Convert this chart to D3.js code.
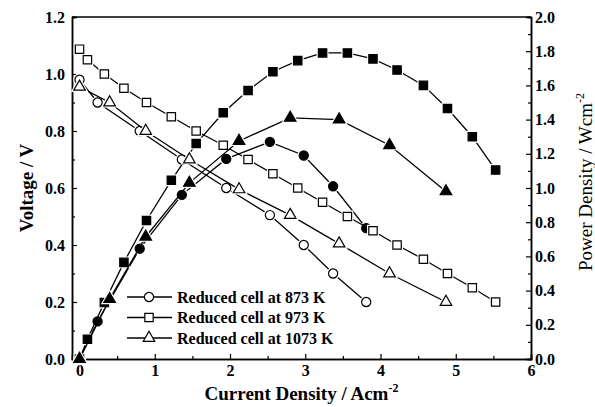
<!DOCTYPE html>
<html>
<head>
<meta charset="utf-8">
<script src="https://cdn.jsdelivr.net/npm/d3@7"></script>
<style>
  body { margin: 0; background: #fff; }
  svg { display: block; }
  svg text { font-family: "Liberation Serif", "Tinos", "Nimbus Roman", "Nimbus Roman No9 L", "FreeSerif", "DejaVu Serif", "Noto Serif", "Times New Roman", Times, serif; }
</style>
</head>
<body>
<div id="chart"></div>
<script>
// Reduced cell at 873 K
const current873 = [0, 0.24, 0.80, 1.36, 1.95, 2.53, 2.98, 3.37, 3.81]
const voltage873 = [0.98, 0.90, 0.80, 0.70, 0.60, 0.505, 0.40, 0.30, 0.20]
const power873 = [0, 0.22, 0.645, 0.96, 1.17, 1.27, 1.19, 1.01, 0.765]

// Reduced cell at 973 K
const current973 = [0, 0.105, 0.33, 0.59, 0.89, 1.22, 1.55, 1.91, 2.24, 2.57, 2.90, 3.23, 3.56, 3.90, 4.22, 4.57, 4.89, 5.22, 5.53]
const voltage973 = [1.087, 1.05, 1.0, 0.95, 0.90, 0.85, 0.80, 0.75, 0.70, 0.65, 0.60, 0.55, 0.50, 0.45, 0.40, 0.35, 0.30, 0.25, 0.20]
const power973 = [0, 0.115, 0.33, 0.565, 0.81, 1.045, 1.26, 1.44, 1.57, 1.68, 1.745, 1.79, 1.79, 1.755, 1.69, 1.60, 1.465, 1.30, 1.105]

// Reduced cell at 1073 K
const current1073 = [0, 0.40, 0.88, 1.46, 2.12, 2.80, 3.45, 4.12, 4.87]
const voltage1073 = [0.955, 0.90, 0.80, 0.70, 0.595, 0.505, 0.405, 0.30, 0.20]
const power1073 = [0, 0.35, 0.715, 1.03, 1.275, 1.41, 1.40, 1.25, 0.98]

const legendLabels = ["Reduced cell at 873 K", "Reduced cell at 973 K", "Reduced cell at 1073 K"]
const xTicks = [0, 1, 2, 3, 4, 5, 6]
const voltageTicks = [0, 0.2, 0.4, 0.6, 0.8, 1.0, 1.2]
const powerTicks = [0, 0.2, 0.4, 0.6, 0.8, 1.0, 1.2, 1.4, 1.6, 1.8, 2.0]

const width = 595, height = 407
const margin = { top: 17, right: 64, bottom: 48, left: 72 }
const innerW = width - margin.left - margin.right
const innerH = height - margin.top - margin.bottom

const svg = d3.select("#chart").append("svg")
  .attr("width", width).attr("height", height)
  .attr("viewBox", `0 0 ${width} ${height}`)

const g = svg.append("g").attr("transform", `translate(${margin.left},${margin.top})`)

const x = d3.scaleLinear().domain([-0.1, 6]).range([0, innerW])
const y = d3.scaleLinear().domain([0, 1.2]).range([innerH, 0])
const yP = d3.scaleLinear().domain([0, 2]).range([innerH, 0])

const styleAxis = sel => {
  sel.attr("font-family", null).attr("font-size", null)
  sel.select(".domain").attr("stroke", "#000").attr("stroke-width", 1.5)
  sel.selectAll(".tick line").attr("stroke", "#000").attr("stroke-width", 1.2)
  sel.selectAll(".tick text").attr("font-weight", "bold")
    .attr("font-size", 16).attr("fill", "#000")
}

// Minor ticks
g.append("g").attr("transform", `translate(0,${innerH})`)
  .call(d3.axisBottom(x).tickValues(d3.range(0.5, 6, 1)).tickSize(-3).tickFormat(""))
  .call(styleAxis)
g.append("g")
  .call(d3.axisLeft(y).tickValues(d3.range(0.1, 1.2, 0.2)).tickSize(-3).tickFormat(""))
  .call(styleAxis)
g.append("g").attr("transform", `translate(${innerW},0)`)
  .call(d3.axisRight(yP).tickValues(d3.range(0.1, 2, 0.2)).tickSize(-3).tickFormat(""))
  .call(styleAxis)

// Major axes
g.append("g").attr("transform", `translate(0,${innerH})`)
  .call(d3.axisBottom(x).tickValues(xTicks).tickSize(-5).tickPadding(6).tickFormat(d3.format("d")))
  .call(styleAxis)
g.append("g")
  .call(d3.axisLeft(y).tickValues(voltageTicks).tickSize(-5).tickPadding(7).tickFormat(d3.format(".1f")))
  .call(styleAxis)
g.append("g").attr("transform", `translate(${innerW},0)`)
  .call(d3.axisRight(yP).tickValues(powerTicks).tickSize(-5).tickPadding(4).tickFormat(d3.format(".1f")))
  .call(styleAxis)

// Top frame line
g.append("line").attr("x1", 0).attr("x2", innerW).attr("y1", 0).attr("y2", 0)
  .attr("stroke", "#000").attr("stroke-width", 1.5)

// Axis titles
const xt = svg.append("text")
  .attr("x", margin.left + x(2.95)).attr("y", 400)
  .attr("text-anchor", "middle").attr("font-weight", "bold")
  .attr("font-size", 19).attr("fill", "#000")
xt.append("tspan").text("Current Density / Acm")
xt.append("tspan").attr("dy", -8).attr("font-size", 12).text("-2")

svg.append("text")
  .attr("transform", `translate(33,${margin.top + innerH / 2}) rotate(-90)`)
  .attr("text-anchor", "middle").attr("font-weight", "bold")
  .attr("font-size", 19).attr("fill", "#000")
  .text("Voltage / V")

const yt = svg.append("text")
  .attr("transform", `translate(592,182) rotate(-90)`)
  .attr("text-anchor", "middle")
  .attr("font-size", 19).attr("fill", "#000")
yt.append("tspan").text("Power Density / Wcm")
yt.append("tspan").attr("dy", -8).attr("font-size", 12).text("-2")

// Series
const series = [
  { cur: current873, v: voltage873, p: power873, shape: d3.symbolCircle, size: 66 },
  { cur: current973, v: voltage973, p: power973, shape: d3.symbolSquare, size: 70 },
  { cur: current1073, v: voltage1073, p: power1073, shape: d3.symbolTriangle, size: 58 }
]

const line = d3.line().x(d => x(d[0])).y(d => d[1])

series.forEach(s => {
  const vPts = s.cur.map((c, i) => [c, y(s.v[i])])
  const pPts = s.cur.map((c, i) => [c, yP(s.p[i])])
  const sym = d3.symbol().type(s.shape).size(s.size)

  ;[[vPts, false], [pPts, true]].forEach(([pts, filled]) => {
    g.append("path").datum(pts).attr("d", line)
      .attr("fill", "none").attr("stroke", "#000").attr("stroke-width", 1.3)
    // white halo to open small gaps where the line meets a marker
    g.append("g").selectAll("path").data(pts).join("path")
      .attr("transform", d => `translate(${x(d[0])},${d[1]})`)
      .attr("d", sym)
      .attr("fill", "#fff").attr("stroke", "#fff").attr("stroke-width", 3.5)
    g.append("g").selectAll("path").data(pts).join("path")
      .attr("transform", d => `translate(${x(d[0])},${d[1]})`)
      .attr("d", sym)
      .attr("fill", filled ? "#000" : "#fff").attr("stroke", "#000").attr("stroke-width", 1.2)
  })
})

// Legend
const legend = svg.append("g").attr("transform", "translate(127,297)")
legendLabels.forEach((label, i) => {
  const row = legend.append("g").attr("transform", `translate(0,${i * 20.5})`)
  row.append("line").attr("x1", 0).attr("x2", 45).attr("y1", 0).attr("y2", 0)
    .attr("stroke", "#000").attr("stroke-width", 1.3)
  row.append("path").attr("transform", "translate(22,0)")
    .attr("d", d3.symbol().type(series[i].shape).size(series[i].size))
    .attr("fill", "#fff").attr("stroke", "#000").attr("stroke-width", 1.2)
  row.append("text").attr("x", 50).attr("y", 0).attr("dy", "0.35em")
    .attr("font-weight", "bold").attr("font-size", 16)
    .attr("fill", "#000").text(label)
})
</script>
</body>
</html>
